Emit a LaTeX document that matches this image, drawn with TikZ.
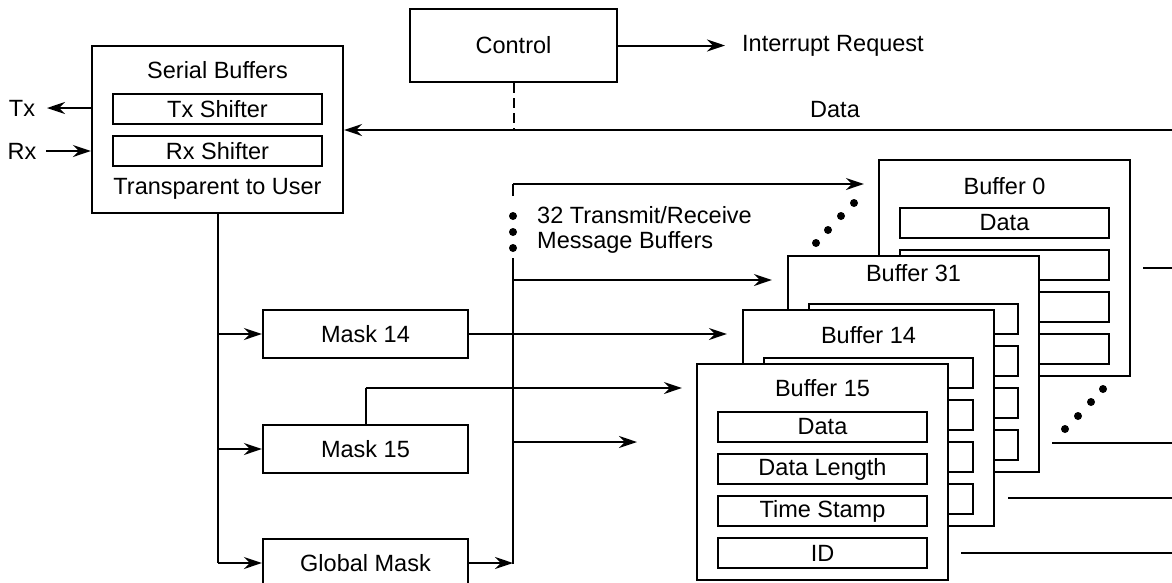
\documentclass[tikz,border=0pt]{standalone}
\usepackage{fontspec}
\setmainfont{Liberation Sans}
\usetikzlibrary{arrows.meta}
\tikzset{
  lbl/.style={inner sep=0pt, font=\fontsize{23.5}{27}\selectfont},
  boxn/.style={draw, line width=2.2pt, fill=white, inner sep=0pt, font=\fontsize{23.5}{27}\selectfont},
  field/.style={boxn, minimum width=209pt, minimum height=30pt},
  bufbox/.style={boxn, minimum width=251pt, minimum height=216pt},
  maskbox/.style={boxn, minimum width=205pt, minimum height=48pt},
  wire/.style={line width=2pt},
  arr/.style={wire, -{Stealth[length=18pt,width=12pt,inset=6pt]}},
  dot/.style={fill=black},
}
\newcommand{\msgbuf}[9]{%
  \node[bufbox] (#1) at (#2+125.5,#3+108) {};
  \node[lbl] (#1t) at (#2+125.5,#3+#5) {#4};
  \node[field] (#1a) at (#2+125.5,#3+63) {#6};
  \node[field] (#1b) at (#2+125.5,#3+105) {#7};
  \node[field] (#1c) at (#2+125.5,#3+147) {#8};
  \node[field] (#1d) at (#2+125.5,#3+189) {#9};
}
\begin{document}
\begin{tikzpicture}[x=1pt,y=-1pt]
\clip (0,0) rectangle (1172,582);
\fill[white] (0,0) rectangle (1172,582);

% Serial buffers
\node[boxn, minimum width=251pt, minimum height=167pt] (sb) at (217.5,129.5) {};
\node[lbl] (sbt) at (217.5,70) {Serial Buffers};
\node[field] (txs) at (217.5,109) {Tx Shifter};
\node[field] (rxs) at (217.5,151) {Rx Shifter};
\node[lbl] (sbu) at (217.5,189) {Transparent to User};
\node[lbl] (txl) at (22,108) {Tx};
\node[lbl] (rxl) at (22,151) {Rx};
\coordinate (txend) at (47,108);
\coordinate (rxstart) at (46,151);
\draw[arr] (sb.west |- txend) -- (txend);
\draw[arr] (rxstart) -- (sb.west |- rxstart);

% Control
\node[boxn, minimum width=207pt, minimum height=73pt] (ctrl) at (513.5,45.5) {Control};
\coordinate (irqend) at (725,45.5);
\node[lbl, anchor=west] (irq) at (742,45.5) {Interrupt Request};
\draw[arr] (ctrl.east) -- (irqend);

% Data line
\coordinate (dataR) at (1172,130);
\node[lbl] (datal) at (835,110) {Data};
\draw[arr] (dataR) -- (sb.east |- dataR);
\draw[wire, dash pattern=on 10pt off 5pt] (ctrl.south) -- (ctrl.south |- dataR);

% Masks
\node[maskbox] (m14) at (365.5,334) {Mask 14};
\node[maskbox] (m15) at (365.5,449) {Mask 15};
\node[maskbox] (gm) at (365.5,563) {Global Mask};
\coordinate (trunkB) at (217.5,563);
\draw[wire] (sb.south) -- (trunkB);
\draw[arr] (sb.south |- m14.west) -- (m14.west);
\draw[arr] (sb.south |- m15.west) -- (m15.west);
\draw[arr] (trunkB) -- (gm.west);

% Bus
\coordinate (busB) at (513,564);
\coordinate (busT) at (513,258);
\coordinate (busTop) at (513,196);
\coordinate (busTopC) at (513,184);
\draw[arr] (gm.east) -- (busB |- gm.east);
\draw[wire] (busB) -- (busT);
\draw[wire, line cap=butt] (busTop) -- (busTopC);
\foreach \yy in {216,232,248} \fill (513,\yy) circle (4pt);
\node[lbl, anchor=west] (t32) at (537,215) {32 Transmit/Receive};
\node[lbl, anchor=west] (tmb) at (537,242) {Message Buffers};

% Buffers (back to front)
\msgbuf{b0}{879}{160}{Buffer 0}{26}{Data}{}{}{}
\msgbuf{b31}{788}{256}{Buffer 31}{17}{}{}{}{}
\msgbuf{b14}{743}{310}{Buffer 14}{25}{}{}{}{}
\msgbuf{b15}{697}{364}{Buffer 15}{24}{Data}{Data Length}{Time Stamp}{ID}

% arrows into buffers
\draw[arr, shorten >=14pt] (busTopC) -- (b0.west |- busTopC);
\coordinate (y280) at (0,280);
\coordinate (y388) at (0,388);
\coordinate (y442) at (0,442);
\coordinate (m15up) at (m15.north |- y388);
\draw[arr, shorten >=15pt] (busB |- y280) -- (b31.west |- y280);
\draw[arr, shorten >=15pt] (m14.east) -- (b14.west |- m14.east);
\draw[wire] (m15.north) -- (m15up);
\draw[arr, shorten >=14pt] (m15up) -- (b15.west |- y388);
\coordinate (freeEnd) at (637,442);
\draw[arr] (busB |- y442) -- (freeEnd);

% diagonal dots
\foreach \xx/\yy in {816/243,828/230,841/216,854/203} \fill (\xx,\yy) circle (4pt);
\foreach \xx/\yy in {1065/429,1078/416,1091/402,1103/389} \fill (\xx,\yy) circle (4pt);

% lines to the right
\coordinate (r0) at (1172,268);
\coordinate (r31) at (1172,443);
\coordinate (r14) at (1172,498);
\coordinate (r15) at (1172,553);
\draw[wire] ([xshift=12pt]b0.east |- r0) -- (r0);
\draw[wire] ([xshift=12pt]b31.east |- r31) -- (r31);
\draw[wire] ([xshift=13pt]b14.east |- r14) -- (r14);
\draw[wire] ([xshift=12pt]b15.east |- r15) -- (r15);
\end{tikzpicture}
\end{document}
